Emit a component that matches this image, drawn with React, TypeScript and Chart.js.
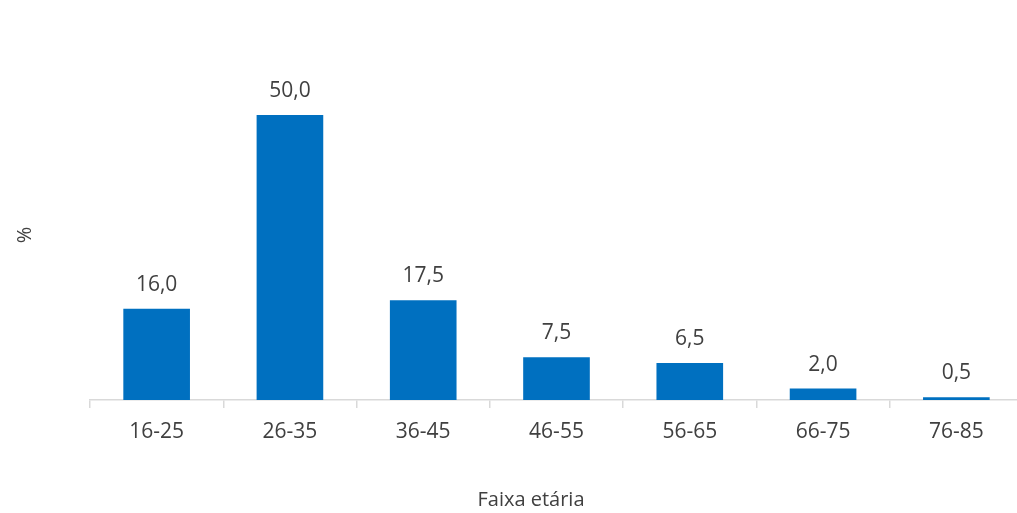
import React, { useEffect, useRef } from "react";
import { Chart, registerables } from "chart.js";

Chart.register(...registerables);

const categories = ["16-25", "26-35", "36-45", "46-55", "56-65", "66-75", "76-85"];
const values = [16.0, 50.0, 17.5, 7.5, 6.5, 2.0, 0.5];
const yTitle = "%";
const xTitle = "Faixa etária";

const FONT = "'Open Sans', sans-serif";
const TEXT = "#404040";
const BAR = "#0070C0";

const labelsPlugin = {
  id: "customLabels",
  afterDatasetsDraw(chart: any) {
    const ctx = chart.ctx;
    const meta = chart.getDatasetMeta(0);
    ctx.save();
    ctx.fillStyle = TEXT;
    ctx.font = `21px ${FONT}`;
    ctx.textAlign = "center";
    ctx.textBaseline = "alphabetic";
    meta.data.forEach((bar: any, i: number) => {
      const v = values[i];
      ctx.fillText(v.toFixed(1).replace(".", ","), bar.x, bar.y - 18);
    });
    // axis titles
    const ca = chart.chartArea;
    ctx.font = `20px ${FONT}`;
    ctx.textBaseline = "middle";
    ctx.fillText(xTitle, 531, 500);
    ctx.translate(25, (ca.top + ca.bottom) / 2 + 6);
    ctx.rotate(-Math.PI / 2);
    ctx.fillText(yTitle, 0, 0);
    ctx.restore();
  },
};

export default function App() {
  const ref = useRef<HTMLCanvasElement | null>(null);
  useEffect(() => {
    document.body.style.margin = "0";
    const chart = new Chart(ref.current!, {
      type: "bar",
      data: {
        labels: categories,
        datasets: [
          {
            data: values,
            backgroundColor: BAR,
            barPercentage: 0.5,
            categoryPercentage: 1,
          },
        ],
      },
      options: {
        responsive: false,
        animation: false,
        layout: { padding: { left: 90, right: 17, top: 58, bottom: 0 } },
        plugins: { legend: { display: false }, tooltip: { enabled: false } },
        scales: {
          x: {
            grid: {
              drawOnChartArea: false,
              drawTicks: true,
              tickLength: 8,
              color: "#d9d9d9",
              lineWidth: 1.5,
            },
            border: { color: "#d9d9d9", width: 1.5 },
            ticks: { color: TEXT, font: { family: FONT, size: 21 }, padding: 11 },
            afterFit(scale: any) {
              scale.height = 113;
            },
          },
          y: {
            display: false,
            min: 0,
            max: 60,
          },
        },
      },
      plugins: [labelsPlugin],
    });
    return () => chart.destroy();
  }, []);
  return (
    <div style={{ position: "fixed", left: 0, top: 0, width: 1017, height: 513, overflow: "hidden", background: "#fff" }}>
      <canvas ref={ref} width={1040} height={513} />
    </div>
  );
}
